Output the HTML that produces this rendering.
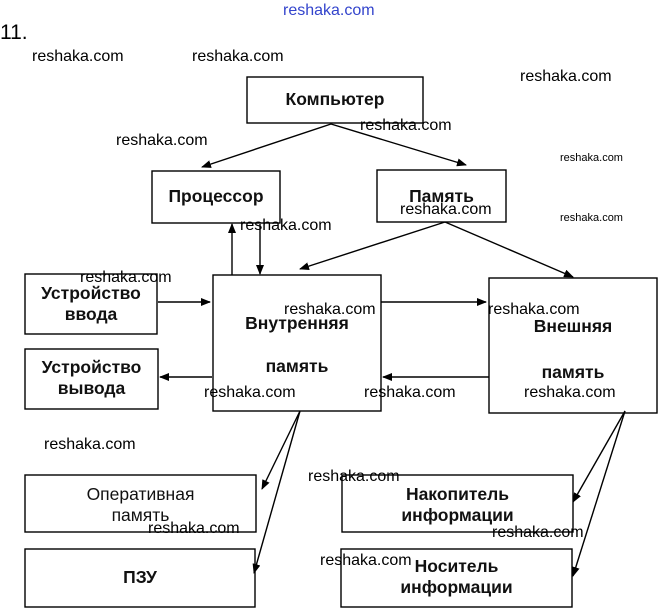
<!DOCTYPE html>
<html><head><meta charset="utf-8"><style>
body{margin:0;width:662px;height:612px;background:#fff;position:relative;overflow:hidden;font-family:"Liberation Sans",sans-serif}
.w{position:absolute;font-size:16px;color:#000;white-space:nowrap;line-height:1}
.s{font-size:11px}
.t{position:absolute;font-weight:bold;font-size:17.5px;text-align:center;color:#111;line-height:21px;font-family:"Liberation Sans",sans-serif}
</style></head><body>
<svg width="662" height="612" style="position:absolute;left:0;top:0">
<defs><marker id="a" markerWidth="10" markerHeight="8" refX="9" refY="4" orient="auto" markerUnits="userSpaceOnUse"><path d="M0,0 L10,4 L0,8 Z" fill="#000"/></marker></defs>
<g fill="none" stroke="#000" stroke-width="1.4">
<rect x="247" y="77" width="176" height="46"/>
<rect x="152" y="171" width="128" height="52"/>
<rect x="377" y="170" width="129" height="52"/>
<rect x="25" y="274" width="132" height="60"/>
<rect x="25" y="349" width="133" height="60"/>
<rect x="213" y="275" width="168" height="136"/>
<rect x="489" y="278" width="168" height="135"/>
<rect x="25" y="475" width="231" height="57"/>
<rect x="25" y="549" width="230" height="58"/>
<rect x="342" y="475" width="231" height="57"/>
<rect x="341" y="549" width="231" height="58"/>
<g marker-end="url(#a)">
<line x1="331" y1="124" x2="202" y2="167"/>
<line x1="331" y1="124" x2="466" y2="165"/>
<line x1="232" y1="275" x2="232" y2="224"/>
<line x1="260" y1="224" x2="260" y2="274"/>
<line x1="445" y1="222" x2="300" y2="269"/>
<line x1="445" y1="222" x2="573" y2="277"/>
<line x1="158" y1="302" x2="210" y2="302"/>
<line x1="381" y1="302" x2="486" y2="302"/>
<line x1="489" y1="377" x2="383" y2="377"/>
<line x1="212" y1="377" x2="160" y2="377"/>
<line x1="300" y1="411" x2="262" y2="489"/>
<line x1="300" y1="411" x2="254" y2="573"/>
<line x1="625" y1="411" x2="573" y2="502"/>
<line x1="625" y1="411" x2="573" y2="576"/>
</g></g></svg>
<div class="w" style="left:283px;top:3px;color:#3344cc;font-size:16px">reshaka.com</div>
<div class="w" style="left:0;top:22px;font-size:21px">11.</div>
<div class="t" style="left:247px;top:89px;width:176px">Компьютер</div>
<div class="t" style="left:152px;top:186px;width:128px">Процессор</div>
<div class="t" style="left:377px;top:186px;width:129px">Память</div>
<div class="t" style="left:25px;top:283px;width:132px">Устройство<br>ввода</div>
<div class="t" style="left:25px;top:357px;width:133px">Устройство<br>вывода</div>
<div class="t" style="left:213px;top:313px;width:168px">Внутренняя</div>
<div class="t" style="left:213px;top:356px;width:168px">память</div>
<div class="t" style="left:489px;top:316px;width:168px">Внешняя</div>
<div class="t" style="left:489px;top:362px;width:168px">память</div>
<div class="t" style="left:25px;top:484px;width:231px;font-weight:normal">Оперативная<br>память</div>
<div class="t" style="left:25px;top:567px;width:230px">ПЗУ</div>
<div class="t" style="left:342px;top:484px;width:231px">Накопитель<br>информации</div>
<div class="t" style="left:341px;top:556px;width:231px">Носитель<br>информации</div>
<div class="w" style="left:32px;top:49px">reshaka.com</div>
<div class="w" style="left:192px;top:49px">reshaka.com</div>
<div class="w" style="left:520px;top:69px">reshaka.com</div>
<div class="w" style="left:360px;top:118px">reshaka.com</div>
<div class="w" style="left:116px;top:133px">reshaka.com</div>
<div class="w s" style="left:560px;top:153px">reshaka.com</div>
<div class="w" style="left:400px;top:202px">reshaka.com</div>
<div class="w s" style="left:560px;top:213px">reshaka.com</div>
<div class="w" style="left:240px;top:218px">reshaka.com</div>
<div class="w" style="left:80px;top:270px">reshaka.com</div>
<div class="w" style="left:284px;top:302px">reshaka.com</div>
<div class="w" style="left:488px;top:302px">reshaka.com</div>
<div class="w" style="left:204px;top:385px">reshaka.com</div>
<div class="w" style="left:364px;top:385px">reshaka.com</div>
<div class="w" style="left:524px;top:385px">reshaka.com</div>
<div class="w" style="left:44px;top:437px">reshaka.com</div>
<div class="w" style="left:308px;top:469px">reshaka.com</div>
<div class="w" style="left:148px;top:521px">reshaka.com</div>
<div class="w" style="left:492px;top:525px">reshaka.com</div>
<div class="w" style="left:320px;top:553px">reshaka.com</div>
</body></html>
